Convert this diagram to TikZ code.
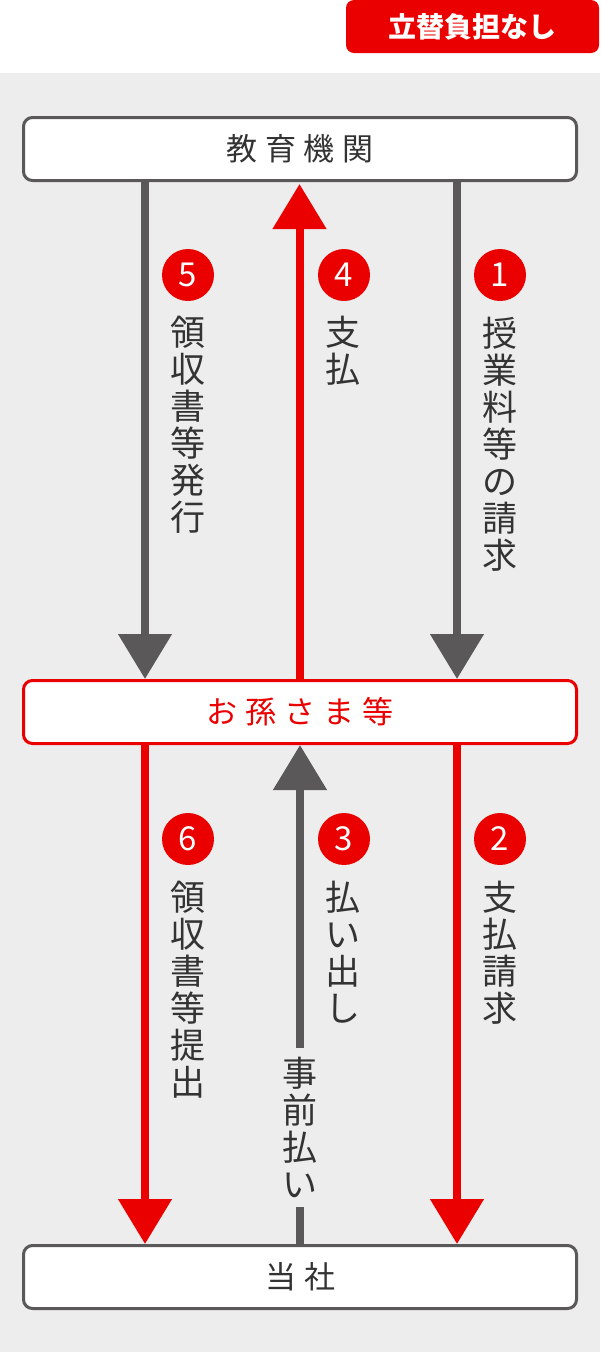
\documentclass[tikz,border=0pt]{standalone}
\usepackage{fontspec}
\newfontfamily\jpfont{Noto Sans CJK JP}
\usetikzlibrary{arrows.meta, positioning}

\definecolor{bggray}{HTML}{EDEDED}
\definecolor{flowred}{HTML}{EB0000}
\definecolor{linegray}{HTML}{5A5858}
\definecolor{textgray}{HTML}{333333}

\tikzset{
  party/.style={draw=linegray, line width=3pt, rounded corners=9pt, fill=white,
    minimum width=553pt, minimum height=63pt, text=textgray,
    font=\jpfont\fontsize{31}{31}\selectfont},
  num/.style={circle, fill=flowred, minimum size=52pt, inner sep=0pt, text=white,
    font=\jpfont\fontsize{33}{33}\selectfont},
  vlabel/.style={align=center, inner sep=0pt, text=textgray,
    font=\jpfont\fontsize{35}{37}\selectfont},
  flow/.style={line width=8pt, -{Triangle[width=52pt, length=45pt]}},
}

\begin{document}
\begin{tikzpicture}[x=1pt, y=-1pt]

\useasboundingbox (0,0) rectangle (600,1352);
\fill[white] (0,0) rectangle (600,73);
\fill[bggray] (0,73) rectangle (600,1352);

\node[fill=flowred, rounded corners=8pt, minimum width=253pt, minimum height=53pt,
  text=white, font=\jpfont\bfseries\fontsize{28}{28}\selectfont] (tag) at (472.5,26.5) {立替負担なし};

\node[party] (school) at (300,149) {教\hspace{8pt}育\hspace{8pt}機\hspace{8pt}関};
\node[party, draw=flowred, text=flowred] (grand) at (300,712) {お\hspace{8pt}孫\hspace{8pt}さ\hspace{8pt}ま\hspace{8pt}等};
\node[party] (company) at (300,1277) {当\hspace{8pt}社};

% upper half
\draw[flow, linegray] ([xshift=-155pt]school.south) -- ([xshift=-155pt]grand.north);
\draw[flow, flowred, shorten >=2pt] ([xshift=-0.5pt]grand.north) -- ([xshift=-0.5pt]school.south);
\draw[flow, linegray] ([xshift=157pt]school.south) -- ([xshift=157pt]grand.north);

\node[num] (n5) at (188,275) {5};
\node[num] (n4) at (344,275) {4};
\node[num] (n1) at (500,275) {1};

\node[vlabel] (receipt) at (188,425) {領\\収\\書\\等\\発\\行};
\node[vlabel] (pay) at (343,350.5) {支\\払};
\node[vlabel] (bill) at (500,444) {授\\業\\料\\等\\の\\請\\求};

% lower half
\node[vlabel, inner ysep=9pt] (prepay) at (300,1127.5) {事\\前\\払\\い};

\draw[flow, flowred] ([xshift=-155pt]grand.south) -- ([xshift=-155pt]company.north);
\draw[line width=8pt, linegray] (company.north) -- (prepay.south);
\draw[flow, linegray] (prepay.north) -- (grand.south);
\draw[flow, flowred] ([xshift=157pt]grand.south) -- ([xshift=157pt]company.north);

\node[num] (n6) at (188,839) {6};
\node[num] (n3) at (344,839) {3};
\node[num] (n2) at (500,839) {2};

\node[vlabel] (submit) at (188,989.5) {領\\収\\書\\等\\提\\出};
\node[vlabel] (payout) at (343,952.5) {払\\い\\出\\し};
\node[vlabel] (claim) at (500,952.5) {支\\払\\請\\求};

\end{tikzpicture}
\end{document}
